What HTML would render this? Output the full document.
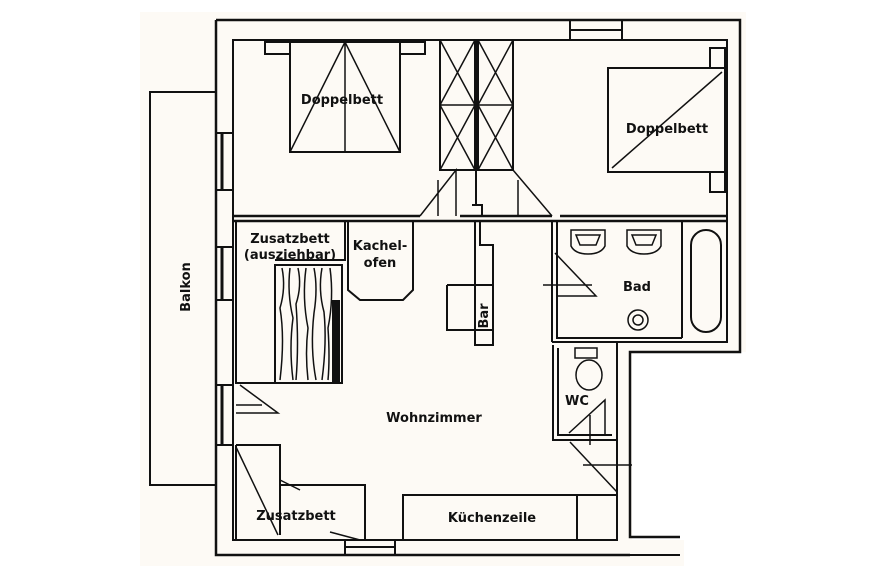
<!DOCTYPE html>
<html><head><meta charset="utf-8"><style>
body{margin:0;background:#fff}
svg{display:block}
text{font-family:"DejaVu Sans","Liberation Sans",sans-serif;font-weight:bold;fill:#111;font-size:13px}
</style></head><body>
<svg width="885" height="580" viewBox="0 0 885 580" xmlns="http://www.w3.org/2000/svg">
<rect width="885" height="580" fill="#fff"/>
<path d="M140 12 H746 V352 H632 V540 H684 V566 H140 Z" fill="#fdfaf5"/>
<g fill="none" stroke="#111" stroke-width="2">
<path d="M216 92 H150 V485 H216"/>
<path d="M216 20 H740 V352 H630 V537 H680" stroke-width="2.5"/>
<path d="M216 20 V555 H630" stroke-width="2.5"/>
<path d="M630 555 H680" />
<path d="M233 40 H727 V342 H617 V540 H233 Z"/>
<path d="M216 133 H233 M216 190 H233 M216 247 H233 M216 300 H233 M216 385 H233 M216 445 H233"/>
<path d="M222 133 V190 M222 247 V300 M222 385 V445" stroke-width="3"/>
<path d="M570 20 V40 M622 20 V40 M570 30 H622 M345 540 V555 M395 540 V555 M345 547 H395" stroke-width="2"/>
<path d="M233 216 H420 M460 216 H552 M560 216 H727 M233 221 H727" stroke-width="2.5"/>
<rect x="290" y="42" width="110" height="110"/>
<rect x="265" y="42" width="25" height="12"/><rect x="400" y="42" width="25" height="12"/>
<path d="M345 42 V152 M345 42 L290 152 M345 42 L400 152" stroke-width="1.5"/>
<rect x="440" y="40" width="35" height="130"/><rect x="478" y="40" width="35" height="130"/>
<path d="M440 105 H475 M478 105 H513 M440 40 L475 105 M475 40 L440 105 M440 105 L475 170 M475 105 L440 170 M478 40 L513 105 M513 40 L478 105 M478 105 L513 170 M513 105 L478 170" stroke-width="1.5"/>
<path d="M476 40 V205 M472 205 H482 V216" stroke-width="2"/>
<path d="M420 216 L456 170 V216 M513 170 L552 216 M518 180 V216 M438 180 V216" stroke-width="1.5"/>
<rect x="608" y="68" width="117" height="104"/>
<path d="M612 168 L722 72" stroke-width="1.5"/>
<rect x="710" y="48" width="15" height="20"/><rect x="710" y="172" width="15" height="20"/>
<path d="M552 221 V342 M557 221 V338 H682 M682 221 V338 M552 342 H617" stroke-width="2"/>
<rect x="691" y="230" width="30" height="102" rx="15" ry="15"/>
<path d="M571 230 h34 v16 q-4 8 -17 8 q-13 0 -17 -8 z M576 235 h24 l-4 10 h-16 z M627 230 h34 v16 q-4 8 -17 8 q-13 0 -17 -8 z M632 235 h24 l-4 10 h-16 z" stroke-width="1.5"/>
<circle cx="638" cy="320" r="10" stroke-width="1.5"/><circle cx="638" cy="320" r="5" stroke-width="1.5"/>
<path d="M555 253 L596 296 H557 M543 285 H592" stroke-width="1.5"/>
<path d="M553 345 V440 H617 M558 348 V435 H612" stroke-width="2"/>
<rect x="575" y="348" width="22" height="10" stroke-width="1.5"/>
<ellipse cx="589" cy="375" rx="13" ry="15" stroke-width="1.5"/>
<path d="M569 433 L605 400 V436 M590 415 V445" stroke-width="1.5"/>
<path d="M570 442 L617 492 M583 465 H632 M617 440 V492" stroke-width="1.5"/>
<path d="M348 222 V290 L360 300 H403 L413 290 V222" stroke-width="2"/>
<path d="M236 222 V383 H342 V265 H275 V383 M345 222 V260 H275" stroke-width="2"/>
<g stroke-width="1.5">
<path d="M282 268 q4 20 -2 40 q5 30 0 72 M290 268 q-3 25 3 50 q-4 30 0 62 M298 268 q4 18 -2 36 q3 40 0 76 M306 268 q-4 30 2 60 q-3 25 0 52 M314 268 q4 20 0 45 q-4 35 2 67 M322 268 q-4 22 2 44 q3 30 -2 68 M330 268 q4 30 -2 60 q2 30 0 52"/>
</g>
<rect x="332" y="300" width="8" height="82" fill="#111" stroke="none"/>
<path d="M475 222 V345 H493 V245 H480 V222 M447 285 H493 M447 285 V330 H493" stroke-width="2"/>
<path d="M240 385 L278 413 H236 M236 405 H262" stroke-width="1.5"/>
<path d="M236 445 H280 V535 M280 485 H365 V540 M236 445 V540" stroke-width="2"/>
<path d="M236 447 L278 535 M280 480 L300 490 M330 532 L360 540" stroke-width="1.5"/>
<path d="M403 540 V495 H617 M577 495 V540" stroke-width="2"/>
</g>
<text x="342" y="104" text-anchor="middle">Doppelbett</text>
<text x="667" y="133" text-anchor="middle">Doppelbett</text>
<text x="290" y="243" text-anchor="middle">Zusatzbett</text>
<text x="290" y="259" text-anchor="middle">(ausziehbar)</text>
<text x="380" y="250" text-anchor="middle">Kachel-</text>
<text x="380" y="267" text-anchor="middle">ofen</text>
<text x="637" y="291" text-anchor="middle">Bad</text>
<text x="577" y="405" text-anchor="middle">WC</text>
<text x="434" y="422" text-anchor="middle">Wohnzimmer</text>
<text x="296" y="520" text-anchor="middle">Zusatzbett</text>
<text x="492" y="522" text-anchor="middle">Küchenzeile</text>
<text transform="translate(190 287) rotate(-90)" text-anchor="middle">Balkon</text>
<text transform="translate(488 316) rotate(-90)" text-anchor="middle" font-size="12">Bar</text>
</svg>
</body></html>
